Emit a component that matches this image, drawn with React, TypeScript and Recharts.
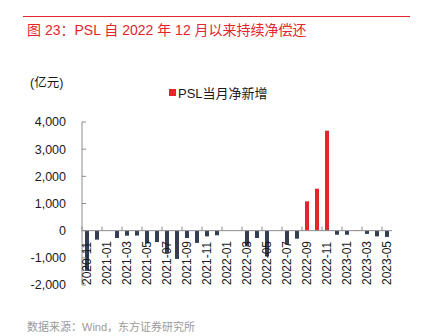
import { BarChart, Bar, XAxis, YAxis, Cell, Legend, ReferenceLine } from 'recharts';

const MONTHS = [
  '2020-11', '2020-12', '2021-01', '2021-02', '2021-03', '2021-04', '2021-05', '2021-06',
  '2021-07', '2021-08', '2021-09', '2021-10', '2021-11', '2021-12', '2022-01', '2022-02',
  '2022-03', '2022-04', '2022-05', '2022-06', '2022-07', '2022-08', '2022-09', '2022-10',
  '2022-11', '2022-12', '2023-01', '2023-02', '2023-03', '2023-04', '2023-05',
];

// PSL当月净新增（亿元）
const PSL_NET = [
  -1480, -330, 0, -270, -185, -180, -470, -420,
  -820, -1040, -270, -450, -210, -170, 0, 0,
  -580, -270, -950, 0, -515, -295, 1080, 1545,
  3680, -150, -150, 20, -120, -210, -230,
];

const Y_TICKS = [-2000, -1000, 0, 1000, 2000, 3000, 4000];
const LABEL_TICKS = MONTHS.map((_, i) => i).filter((i) => i % 2 === 0);

const RED = '#e3262b';
const NAVY = '#333f50';
const AXIS = '#8c8c8c';
const FONT = '"Liberation Sans", Arial, "Noto Sans CJK SC", sans-serif';

const data = MONTHS.map((m, i) => ({ idx: i, month: m, value: PSL_NET[i] }));

function MonthTick({ x, y, payload }: any) {
  return (
    <text
      transform={`translate(${x},${y}) rotate(-90)`}
      textAnchor="start"
      dy="0.36em"
      fontSize={12}
      fontFamily={FONT}
      fill="#1a1a1a"
    >
      {MONTHS[payload.value]}
    </text>
  );
}

function LegendContent() {
  return (
    <div style={{ display: 'flex', alignItems: 'center', fontSize: 13, fontFamily: FONT, color: '#1a1a1a' }}>
      <span style={{ width: 7, height: 7, background: RED, marginRight: 2, display: 'inline-block' }} />
      PSL当月净新增
    </div>
  );
}

export default function App() {
  return (
    <div style={{ position: 'absolute', left: 0, top: 0, width: 428, height: 336, background: '#fff', fontFamily: FONT }}>
      <div style={{ position: 'absolute', left: 23, top: 16, width: 387, height: 1, background: RED }} />
      <div style={{ position: 'absolute', left: 27, top: 21, fontSize: 14, lineHeight: '18px', color: RED, whiteSpace: 'nowrap' }}>
        图 23：PSL 自 2022 年 12 月以来持续净偿还
      </div>
      <div style={{ position: 'absolute', left: 30, top: 75, fontSize: 12.5, lineHeight: '16px', color: '#1a1a1a' }}>
        (亿元)
      </div>

      <div style={{ position: 'absolute', left: 0, top: 0 }}>
        <BarChart width={428} height={336} data={data} margin={{ top: 122, right: 36, bottom: 50, left: 0 }}>
          <XAxis
            type="number"
            dataKey="idx"
            domain={[-0.5, MONTHS.length - 0.5]}
            ticks={LABEL_TICKS}
            interval={0}
            height={1}
            axisLine={false}
            tickLine={false}
            tickSize={0}
            tickMargin={0}
            tick={<MonthTick />}
          />
          <YAxis
            type="number"
            domain={[-2000, 4000]}
            ticks={Y_TICKS}
            interval={0}
            width={82}
            stroke={AXIS}
            tickSize={-4}
            tickMargin={20}
            tickFormatter={(v: number) => v.toLocaleString('en-US')}
            tick={{ fontSize: 12.5, fill: '#1a1a1a', fontFamily: FONT }}
          />
          <Legend
            layout="horizontal"
            verticalAlign="middle"
            align="center"
            content={<LegendContent />}
            wrapperStyle={{ top: 83, left: 169, width: 120 }}
          />
          <Bar dataKey="value" barSize={4} fill={RED} isAnimationActive={false}>
            {data.map((d) => (
              <Cell key={d.month} fill={d.value >= 0 ? RED : NAVY} />
            ))}
          </Bar>
          <ReferenceLine y={0} stroke={AXIS} ifOverflow="visible" />
          {LABEL_TICKS.map((i) => (
            <ReferenceLine
              key={i}
              stroke={AXIS}
              segment={[{ x: i - 0.5, y: 0 }, { x: i - 0.5, y: 150 }]}
            />
          ))}
        </BarChart>
      </div>

      <div style={{ position: 'absolute', left: 27, top: 320, fontSize: 11, lineHeight: '15px', color: '#9a9a9a', whiteSpace: 'nowrap' }}>
        数据来源：Wind，东方证券研究所
      </div>
    </div>
  );
}
